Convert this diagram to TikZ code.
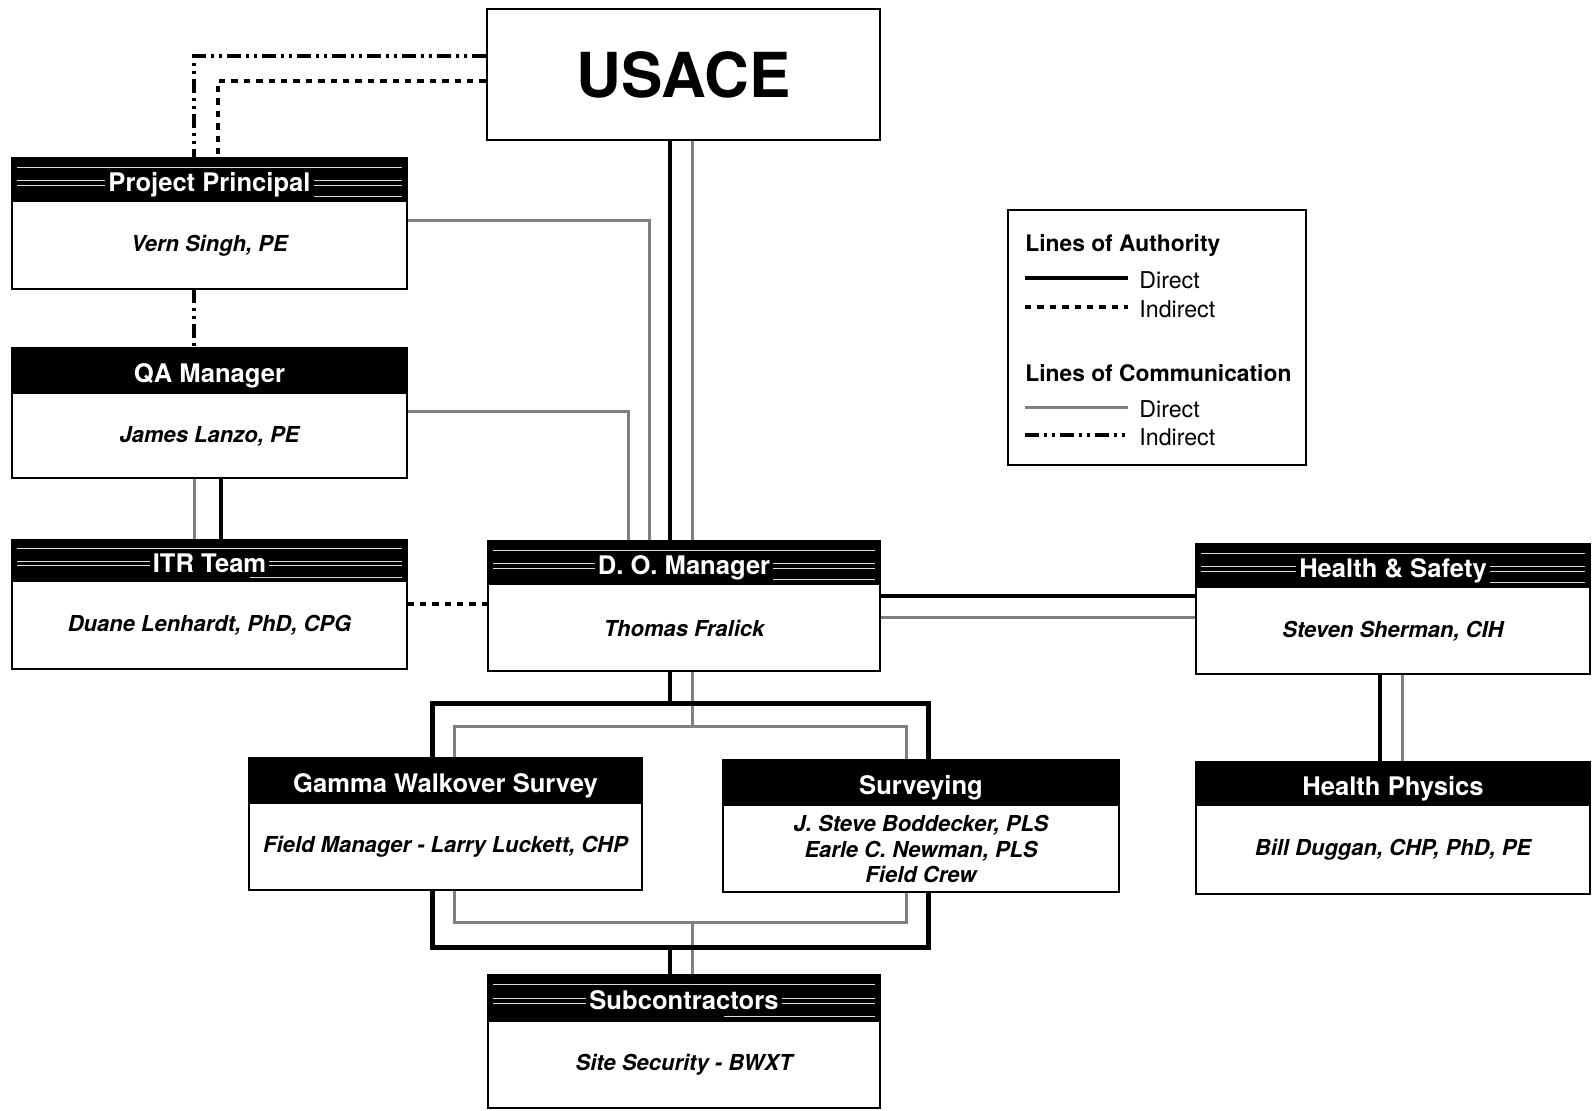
\documentclass[tikz,border=0pt]{standalone}
\usepackage{fontspec}
\setmainfont{TeX Gyre Heros}
\tikzset{
  unitbox/.style={draw, line width=1.2pt, fill=white, inner sep=0pt},
  ttl/.style={text=white, font=\fontsize{12.8}{14}\selectfont\bfseries, inner sep=1.5pt},
  nm/.style={font=\fontsize{11}{12.7}\selectfont\bfseries\itshape, align=center},
  authdir/.style={line width=2.4pt, black},
  authind/.style={line width=1.8pt, black, dash pattern=on 3.2pt off 3pt},
  comdir/.style={line width=1.5pt, black!50},
  comind/.style={line width=1.8pt, black, dash pattern=on 7pt off 2.5pt on 1.5pt off 2.5pt on 1.5pt off 2.5pt},
  stripe/.style={white!85!black, line width=0.25pt},
  legtitle/.style={font=\fontsize{11.4}{13}\selectfont\bfseries, anchor=west, inner sep=0pt},
  legtxt/.style={font=\fontsize{11.6}{13}\selectfont, anchor=west, inner sep=0pt},
}
% name, x1, y1, x2, y2, header bottom, title, body, stripes
\newcommand\orgunit[9]{%
  \pgfmathsetmacro\ouw{(#4-#2)*0.5}%
  \pgfmathsetmacro\ouh{(#5-#3)*0.5}%
  \node[unitbox, minimum width=\ouw pt, minimum height=\ouh pt] (#1) at ({(#2+#4)/2},{(#3+#5)/2}) {};
  \fill (#2,#3) rectangle (#4,#6);
  \ifnum#9=1
    \draw[stripe] ({#2+5},{#3+0.2*(#6-#3)}) -- ({#4-5},{#3+0.2*(#6-#3)});
    \draw[stripe] ({#2+5},{#3+0.5*(#6-#3)}) -- ({#4-5},{#3+0.5*(#6-#3)});
    \draw[stripe] ({#2+5},{#3+0.61*(#6-#3)}) -- ({#4-5},{#3+0.61*(#6-#3)});
    \draw[stripe] ({(#2+#4)/2+40},{#3+0.88*(#6-#3)}) -- ({#4-5},{#3+0.88*(#6-#3)});
  \fi
  \node[ttl, fill=black, anchor=base] (#1-t) at ({(#2+#4)/2},{(#3+#6)/2+11}) {#7};
  \node[nm] (#1-n) at ({(#2+#4)/2},{(#6+#5)/2}) {#8};
}
\begin{document}
\begin{tikzpicture}[x=0.5pt,y=-0.5pt]
\fill[white] (0,0) rectangle (1596,1110);
\useasboundingbox (0,0) rectangle (1596,1110);

% helper nodes giving the geometry for connectors
\node[unitbox, minimum width=196.5pt, minimum height=65.5pt] (usace) at (683.5,74.5) {};
\node[inner sep=0pt, minimum width=247.5pt, minimum height=121.5pt] (bus) at (680.5,825.5) {};
\node[inner sep=0pt, minimum width=225.5pt, minimum height=97.5pt] (gbus) at (680.5,824.5) {};
\node[minimum width=197.5pt, minimum height=65.5pt, inner sep=0pt] (pp) at (209.5,223.5) {};
\node[minimum width=197.5pt, minimum height=65pt, inner sep=0pt] (qa) at (209.5,413) {};
\node[minimum width=197.5pt, minimum height=64.5pt, inner sep=0pt] (itr) at (209.5,604.5) {};
\node[minimum width=196pt, minimum height=65pt, inner sep=0pt] (do) at (684,606) {};
\node[minimum width=197pt, minimum height=65pt, inner sep=0pt] (hs) at (1393,609) {};
\node[minimum width=197pt, minimum height=66pt, inner sep=0pt] (hp) at (1393,828) {};
\node[minimum width=196pt, minimum height=66.5pt, inner sep=0pt] (sc) at (684,1041.5) {};

% coordinates for connector offsets
\coordinate (xa) at (670,0);
\coordinate (xg) at (692,0);
\coordinate (c1) at (194,56);
\coordinate (c2) at (218,81);
\coordinate (c3) at (649,220);
\coordinate (c4) at (628,411);
\coordinate (c5) at (221,0);
\coordinate (c6) at (0,604);
\coordinate (c7) at (0,596);
\coordinate (c8) at (0,617);
\coordinate (c9) at (1380,0);
\coordinate (c10) at (1402,0);

% ---------- connectors ----------
\draw[comdir] (usace.south -| xg) -- (do.north -| xg);
\draw[authdir] (usace.south -| xa) -- (do.north -| xa);
\draw[comdir] (do.south -| xg) -- (gbus.north -| xg);
\draw[authdir] (do.south -| xa) -- (bus.north -| xa);
\draw[comdir] (gbus.south -| xg) -- (sc.north -| xg);
\draw[authdir] (bus.south -| xa) -- (sc.north -| xa);
\draw[comdir] (gbus.north west) rectangle (gbus.south east);
\draw[authdir] (bus.north west) rectangle (bus.south east);

\draw[comind] (usace.west |- c1) -| (pp.north -| c1);
\draw[authind] (usace.west |- c2) -| (pp.north -| c2);
\draw[comind] (pp.south -| c1) -- (qa.north -| c1);
\draw[comdir] (pp.east |- c3) -| (do.north -| c3);
\draw[comdir] (qa.east |- c4) -| (do.north -| c4);
\draw[comdir] (qa.south -| c1) -- (itr.north -| c1);
\draw[authdir] (qa.south -| c5) -- (itr.north -| c5);
\draw[authind] (itr.east |- c6) -- (do.west |- c6);
\draw[authdir] (do.east |- c7) -- (hs.west |- c7);
\draw[comdir] (do.east |- c8) -- (hs.west |- c8);
\draw[authdir] (hs.south -| c9) -- (hp.north -| c9);
\draw[comdir] (hs.south -| c10) -- (hp.north -| c10);

% ---------- boxes ----------
\node[font=\fontsize{31}{33}\selectfont\bfseries] (usace-t) at (usace) {USACE};
\orgunit{ppb}{12}{158}{407}{289}{202}{Project Principal}{Vern Singh, PE}{1}
\orgunit{qab}{12}{348}{407}{478}{394}{QA Manager}{James Lanzo, PE}{0}
\orgunit{itrb}{12}{540}{407}{669}{582}{ITR Team}{Duane Lenhardt, PhD, CPG}{1}
\orgunit{dob}{488}{541}{880}{671}{585}{D. O. Manager}{Thomas Fralick}{1}
\orgunit{hsb}{1196}{544}{1590}{674}{588}{Health \& Safety}{Steven Sherman, CIH}{1}
\orgunit{gwb}{249}{758}{642}{890}{804}{Gamma Walkover Survey}{Field Manager - Larry Luckett, CHP}{0}
\orgunit{svb}{723}{760}{1119}{892}{806}{Surveying}{J. Steve Boddecker, PLS\\Earle C. Newman, PLS\\Field Crew}{0}
\orgunit{hpb}{1196}{762}{1590}{894}{806}{Health Physics}{Bill Duggan, CHP, PhD, PE}{0}
\orgunit{scb}{488}{975}{880}{1108}{1022}{Subcontractors}{Site Security - BWXT}{1}

% ---------- legend ----------
\node[draw, line width=1pt, minimum width=149pt, minimum height=127.5pt, inner sep=0pt] (leg) at (1157,337.5) {};
\node[legtitle] (leg-a) at (1025,245) {Lines of Authority};
\coordinate (la1) at (1025,278); \coordinate (la2) at (1128,278);
\draw[authdir] (la1) -- (la2);
\node[legtxt] (leg-ad) at (1139,280) {Direct};
\coordinate (lb1) at (1025,307); \coordinate (lb2) at (1128,307);
\draw[authind] (lb1) -- (lb2);
\node[legtxt] (leg-ai) at (1139,309) {Indirect};
\node[legtitle] (leg-c) at (1025,373) {Lines of Communication};
\coordinate (lc1) at (1025,407); \coordinate (lc2) at (1128,407);
\draw[comdir] (lc1) -- (lc2);
\node[legtxt] (leg-cd) at (1139,409) {Direct};
\coordinate (ld1) at (1025,435); \coordinate (ld2) at (1128,435);
\draw[comind] (ld1) -- (ld2);
\node[legtxt] (leg-ci) at (1139,437) {Indirect};
\end{tikzpicture}
\end{document}
